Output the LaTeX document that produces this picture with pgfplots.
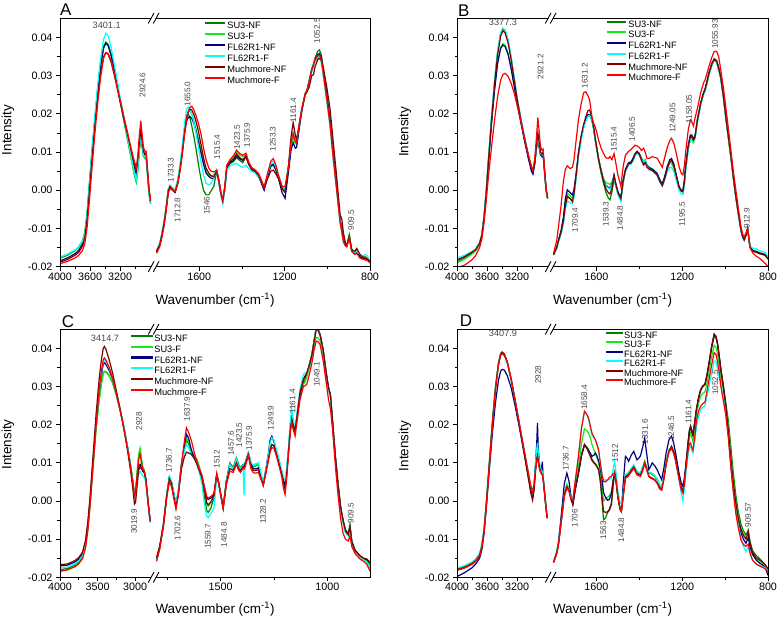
\documentclass[border=0pt]{standalone}
\usepackage{fontspec}
\setmainfont{Liberation Sans}
\usepackage{pgfplots}
\usepackage{pgfplotstable}
\pgfplotsset{compat=1.18}
\definecolor{cSNF}{RGB}{0,128,0}
\definecolor{cSF}{RGB}{20,235,20}
\definecolor{cFNF}{RGB}{0,0,128}
\definecolor{cFF}{RGB}{0,255,255}
\definecolor{cMNF}{RGB}{128,0,0}
\definecolor{cMF}{RGB}{255,0,0}

% ---------------- Panel A ----------------
\pgfplotstableread{
w a b c d e f
4000 -0.0178 -0.0176 -0.0185 -0.0175 -0.0188 -0.0192
3900 -0.0170 -0.0168 -0.0177 -0.0167 -0.0181 -0.0186
3800 -0.0158 -0.0157 -0.0166 -0.0156 -0.0170 -0.0177
3750 -0.0149 -0.0148 -0.0157 -0.0148 -0.0162 -0.0170
3700 -0.0132 -0.0132 -0.0140 -0.0133 -0.0146 -0.0157
3670 -0.0110 -0.0112 -0.0118 -0.0113 -0.0125 -0.0140
3640 -0.0060 -0.0064 -0.0068 -0.0062 -0.0076 -0.0098
3610 0.0015 0.0010 0.0006 0.0014 -0.0005 -0.0030
3580 0.0090 0.0085 0.0082 0.0092 0.0068 0.0045
3540 0.0180 0.0176 0.0173 0.0187 0.0160 0.0140
3500 0.0262 0.0258 0.0256 0.0274 0.0240 0.0225
3460 0.0330 0.0326 0.0325 0.0345 0.0306 0.0296
3420 0.0377 0.0373 0.0373 0.0396 0.0350 0.0346
3390 0.0388 0.0385 0.0385 0.0411 0.0360 0.0360
3360 0.0382 0.0379 0.0379 0.0404 0.0356 0.0358
3320 0.0356 0.0353 0.0353 0.0374 0.0335 0.0340
3280 0.0318 0.0315 0.0316 0.0332 0.0303 0.0308
3240 0.0276 0.0274 0.0276 0.0288 0.0268 0.0272
3200 0.0233 0.0232 0.0236 0.0243 0.0232 0.0236
3150 0.0182 0.0181 0.0187 0.0190 0.0188 0.0192
3100 0.0132 0.0131 0.0140 0.0138 0.0145 0.0150
3050 0.0080 0.0080 0.0092 0.0086 0.0100 0.0106
3010 0.0040 0.0040 0.0058 0.0046 0.0068 0.0075
2985 0.0022 0.0021 0.0042 0.0028 0.0052 0.0060
2965 0.0055 0.0052 0.0068 0.0060 0.0080 0.0092
2945 0.0105 0.0102 0.0112 0.0108 0.0125 0.0145
2925 0.0140 0.0138 0.0145 0.0142 0.0160 0.0182
2910 0.0118 0.0115 0.0122 0.0120 0.0132 0.0150
2890 0.0090 0.0088 0.0095 0.0092 0.0102 0.0112
2870 0.0085 0.0083 0.0090 0.0088 0.0095 0.0102
2855 0.0090 0.0088 0.0092 0.0092 0.0098 0.0102
2840 0.0050 0.0050 0.0055 0.0052 0.0060 0.0062
2815 -0.0010 -0.0010 -0.0006 -0.0008 0.0000 0.0002
2795 -0.0035 -0.0035 -0.0032 -0.0034 -0.0028 -0.0025
}\tAL
\pgfplotstableread{
w a b c d e f
1800 -0.0158 -0.0158 -0.0160 -0.0157 -0.0160 -0.0165
1785 -0.0140 -0.0140 -0.0142 -0.0138 -0.0142 -0.0148
1775 -0.0115 -0.0115 -0.0117 -0.0112 -0.0117 -0.0124
1765 -0.0085 -0.0085 -0.0087 -0.0082 -0.0087 -0.0095
1755 -0.0045 -0.0045 -0.0047 -0.0042 -0.0047 -0.0055
1745 0.0002 0.0000 0.0000 0.0004 -0.0002 -0.0008
1737 0.0012 0.0012 0.0008 0.0013 0.0010 0.0005
1725 0.0004 0.0006 0.0000 0.0005 0.0002 0.0000
1713 -0.0002 0.0002 -0.0006 0.0000 -0.0004 -0.0004
1700 0.0025 0.0028 0.0020 0.0030 0.0022 0.0018
1690 0.0060 0.0062 0.0055 0.0068 0.0055 0.0050
1680 0.0105 0.0105 0.0098 0.0115 0.0098 0.0090
1670 0.0155 0.0152 0.0145 0.0168 0.0147 0.0140
1660 0.0195 0.0190 0.0180 0.0212 0.0188 0.0183
1652 0.0200 0.0205 0.0190 0.0218 0.0205 0.0205
1645 0.0192 0.0208 0.0193 0.0214 0.0212 0.0216
1635 0.0168 0.0200 0.0188 0.0198 0.0210 0.0220
1625 0.0140 0.0182 0.0175 0.0178 0.0198 0.0210
1615 0.0108 0.0160 0.0155 0.0150 0.0180 0.0195
1604 0.0068 0.0135 0.0128 0.0114 0.0155 0.0175
1592 0.0030 0.0105 0.0098 0.0075 0.0120 0.0148
1580 0.0000 0.0075 0.0068 0.0040 0.0085 0.0110
1568 -0.0012 0.0050 0.0045 0.0018 0.0058 0.0080
1555 -0.0012 0.0040 0.0036 0.0014 0.0045 0.0058
1545 -0.0002 0.0038 0.0032 0.0018 0.0038 0.0050
1532 0.0010 0.0040 0.0030 0.0030 0.0035 0.0048
1518 0.0050 0.0052 0.0048 0.0050 0.0050 0.0052
1508 0.0022 0.0025 0.0020 0.0020 0.0024 0.0028
1498 -0.0010 -0.0008 -0.0012 -0.0015 -0.0010 -0.0006
1490 -0.0030 -0.0028 -0.0030 -0.0035 -0.0028 -0.0025
1480 0.0005 0.0008 0.0004 0.0000 0.0008 0.0012
1471 0.0058 0.0062 0.0058 0.0052 0.0062 0.0066
1456 0.0070 0.0078 0.0072 0.0064 0.0075 0.0080
1440 0.0075 0.0088 0.0078 0.0068 0.0082 0.0090
1425 0.0085 0.0100 0.0090 0.0070 0.0095 0.0105
1410 0.0078 0.0092 0.0082 0.0064 0.0085 0.0096
1396 0.0072 0.0088 0.0078 0.0060 0.0080 0.0092
1381 0.0088 0.0094 0.0090 0.0066 0.0090 0.0097
1368 0.0068 0.0072 0.0068 0.0056 0.0068 0.0074
1355 0.0055 0.0058 0.0055 0.0050 0.0056 0.0060
1339 0.0049 0.0050 0.0047 0.0046 0.0050 0.0054
1320 0.0036 0.0037 0.0034 0.0036 0.0038 0.0042
1296 0.0005 0.0007 0.0000 0.0007 0.0006 0.0009
1280 0.0036 0.0040 0.0036 0.0042 0.0030 0.0044
1265 0.0062 0.0066 0.0064 0.0070 0.0050 0.0076
1253 0.0066 0.0068 0.0068 0.0075 0.0053 0.0083
1240 0.0052 0.0054 0.0052 0.0060 0.0042 0.0064
1229 0.0034 0.0036 0.0032 0.0040 0.0030 0.0040
1212 0.0006 0.0010 -0.0006 0.0012 0.0004 0.0010
1198 -0.0004 0.0002 -0.0021 0.0004 -0.0006 0.0010
1182 0.0058 0.0062 0.0048 0.0064 0.0062 0.0062
1170 0.0118 0.0120 0.0105 0.0128 0.0140 0.0125
1160 0.0140 0.0142 0.0125 0.0153 0.0177 0.0149
1150 0.0124 0.0124 0.0110 0.0133 0.0145 0.0128
1144 0.0122 0.0120 0.0112 0.0128 0.0131 0.0124
1130 0.0175 0.0172 0.0168 0.0178 0.0178 0.0178
1120 0.0210 0.0208 0.0205 0.0212 0.0210 0.0212
1104 0.0250 0.0248 0.0252 0.0250 0.0250 0.0253
1095 0.0262 0.0258 0.0262 0.0258 0.0258 0.0262
1085 0.0285 0.0280 0.0285 0.0280 0.0270 0.0285
1073 0.0318 0.0312 0.0316 0.0312 0.0300 0.0314
1065 0.0330 0.0325 0.0328 0.0325 0.0302 0.0326
1058 0.0345 0.0338 0.0340 0.0336 0.0322 0.0340
1045 0.0364 0.0350 0.0355 0.0346 0.0342 0.0352
1037 0.0367 0.0352 0.0358 0.0349 0.0345 0.0354
1028 0.0355 0.0340 0.0345 0.0335 0.0340 0.0340
1019 0.0320 0.0305 0.0312 0.0300 0.0322 0.0306
1003 0.0255 0.0238 0.0248 0.0235 0.0272 0.0240
987 0.0186 0.0172 0.0180 0.0168 0.0212 0.0170
972 0.0098 0.0085 0.0092 0.0080 0.0125 0.0082
956 0.0012 0.0002 0.0008 0.0000 0.0035 0.0000
940 -0.0075 -0.0082 -0.0078 -0.0085 -0.0065 -0.0085
932 -0.0100 -0.0108 -0.0104 -0.0110 -0.0075 -0.0110
925 -0.0128 -0.0132 -0.0130 -0.0135 -0.0110 -0.0134
915 -0.0143 -0.0145 -0.0143 -0.0146 -0.0138 -0.0146
909 -0.0145 -0.0146 -0.0145 -0.0148 -0.0145 -0.0148
897 -0.0117 -0.0115 -0.0122 -0.0124 -0.0120 -0.0125
886 -0.0155 -0.0155 -0.0158 -0.0157 -0.0155 -0.0160
872 -0.0162 -0.0162 -0.0165 -0.0163 -0.0160 -0.0168
862 -0.0158 -0.0160 -0.0162 -0.0160 -0.0152 -0.0165
847 -0.0170 -0.0172 -0.0174 -0.0168 -0.0168 -0.0178
835 -0.0175 -0.0176 -0.0178 -0.0172 -0.0174 -0.0180
823 -0.0174 -0.0178 -0.0180 -0.0168 -0.0178 -0.0182
812 -0.0178 -0.0180 -0.0182 -0.0172 -0.0180 -0.0184
800 -0.0183 -0.0186 -0.0188 -0.0186 -0.0186 -0.0190
}\tAR

% ---------------- Panel B ----------------
\pgfplotstableread{
w a b c d e f
4000 -0.0188 -0.0190 -0.0183 -0.0178 -0.0183 -0.0203
3900 -0.0178 -0.0180 -0.0174 -0.0170 -0.0174 -0.0196
3800 -0.0165 -0.0167 -0.0162 -0.0160 -0.0162 -0.0182
3750 -0.0157 -0.0158 -0.0154 -0.0153 -0.0155 -0.0170
3700 -0.0140 -0.0141 -0.0138 -0.0137 -0.0139 -0.0150
3670 -0.0118 -0.0120 -0.0117 -0.0115 -0.0118 -0.0128
3640 -0.0070 -0.0073 -0.0070 -0.0066 -0.0071 -0.0085
3610 0.0000 -0.0004 -0.0003 0.0004 -0.0002 -0.0025
3580 0.0085 0.0078 0.0076 0.0090 0.0082 0.0040
3540 0.0190 0.0178 0.0176 0.0194 0.0186 0.0115
3500 0.0285 0.0266 0.0263 0.0290 0.0280 0.0185
3460 0.0362 0.0335 0.0332 0.0365 0.0355 0.0245
3420 0.0410 0.0374 0.0371 0.0412 0.0403 0.0288
3390 0.0424 0.0384 0.0380 0.0424 0.0418 0.0303
3360 0.0418 0.0380 0.0376 0.0420 0.0412 0.0306
3320 0.0390 0.0358 0.0355 0.0394 0.0385 0.0298
3280 0.0345 0.0320 0.0318 0.0350 0.0342 0.0280
3240 0.0292 0.0275 0.0273 0.0296 0.0290 0.0255
3200 0.0240 0.0228 0.0226 0.0243 0.0238 0.0222
3150 0.0185 0.0178 0.0176 0.0187 0.0184 0.0180
3100 0.0135 0.0130 0.0127 0.0137 0.0134 0.0135
3050 0.0090 0.0086 0.0082 0.0092 0.0089 0.0092
3010 0.0060 0.0056 0.0050 0.0062 0.0058 0.0062
2990 0.0050 0.0046 0.0042 0.0052 0.0048 0.0052
2965 0.0075 0.0072 0.0070 0.0078 0.0075 0.0085
2945 0.0110 0.0108 0.0108 0.0112 0.0114 0.0135
2925 0.0140 0.0138 0.0136 0.0142 0.0150 0.0190
2910 0.0120 0.0118 0.0116 0.0120 0.0128 0.0160
2890 0.0095 0.0094 0.0092 0.0096 0.0100 0.0115
2870 0.0090 0.0090 0.0088 0.0092 0.0094 0.0105
2855 0.0098 0.0096 0.0094 0.0098 0.0100 0.0108
2840 0.0060 0.0058 0.0058 0.0060 0.0062 0.0065
2815 0.0000 0.0000 0.0000 0.0000 0.0002 0.0004
2795 -0.0022 -0.0022 -0.0022 -0.0022 -0.0020 -0.0018
}\tBL
\pgfplotstableread{
w a b c d e f
1800 -0.0169 -0.0169 -0.0168 -0.0170 -0.0169 -0.0165
1785 -0.0150 -0.0150 -0.0148 -0.0152 -0.0150 -0.0130
1777 -0.0132 -0.0132 -0.0130 -0.0135 -0.0132 -0.0095
1765 -0.0110 -0.0108 -0.0105 -0.0115 -0.0110 -0.0040
1754 -0.0080 -0.0075 -0.0070 -0.0088 -0.0080 0.0025
1745 -0.0040 -0.0030 -0.0022 -0.0050 -0.0040 0.0055
1736 -0.0017 -0.0008 0.0001 -0.0028 -0.0015 0.0064
1723 -0.0022 -0.0014 -0.0006 -0.0033 -0.0022 0.0057
1712 -0.0028 -0.0022 -0.0012 -0.0036 -0.0030 0.0060
1705 -0.0010 -0.0005 0.0002 -0.0018 -0.0010 0.0079
1695 0.0035 0.0038 0.0042 0.0030 0.0038 0.0130
1684 0.0092 0.0094 0.0098 0.0088 0.0096 0.0184
1672 0.0135 0.0136 0.0138 0.0130 0.0140 0.0225
1660 0.0166 0.0166 0.0168 0.0162 0.0172 0.0255
1650 0.0183 0.0184 0.0186 0.0180 0.0192 0.0258
1640 0.0195 0.0196 0.0198 0.0193 0.0208 0.0248
1632 0.0196 0.0198 0.0198 0.0196 0.0210 0.0236
1621 0.0182 0.0185 0.0185 0.0184 0.0190 0.0192
1613 0.0160 0.0164 0.0163 0.0162 0.0165 0.0175
1606 0.0132 0.0137 0.0135 0.0133 0.0137 0.0166
1598 0.0105 0.0110 0.0108 0.0105 0.0108 0.0150
1590 0.0078 0.0084 0.0082 0.0078 0.0080 0.0131
1578 0.0045 0.0054 0.0050 0.0046 0.0048 0.0110
1567 0.0018 0.0030 0.0026 0.0022 0.0022 0.0096
1556 -0.0005 0.0020 0.0012 0.0010 0.0004 0.0085
1545 -0.0020 0.0018 0.0008 0.0006 -0.0006 0.0083
1537 -0.0025 0.0015 0.0005 0.0003 -0.0010 0.0088
1528 -0.0005 0.0022 0.0015 0.0012 0.0005 0.0080
1518 0.0030 0.0036 0.0040 0.0034 0.0038 0.0096
1510 0.0012 0.0016 0.0018 0.0012 0.0016 0.0072
1500 -0.0008 -0.0006 -0.0004 -0.0012 -0.0006 0.0040
1486 -0.0022 -0.0020 -0.0020 -0.0030 -0.0022 0.0010
1476 0.0020 0.0024 0.0024 0.0016 0.0022 0.0060
1465 0.0050 0.0054 0.0055 0.0048 0.0052 0.0092
1450 0.0068 0.0072 0.0072 0.0066 0.0070 0.0102
1440 0.0070 0.0073 0.0074 0.0068 0.0070 0.0106
1431 0.0078 0.0080 0.0082 0.0076 0.0078 0.0112
1420 0.0092 0.0094 0.0096 0.0090 0.0094 0.0118
1410 0.0100 0.0101 0.0102 0.0098 0.0100 0.0116
1400 0.0094 0.0096 0.0096 0.0092 0.0094 0.0112
1390 0.0080 0.0084 0.0082 0.0080 0.0078 0.0104
1380 0.0070 0.0076 0.0072 0.0074 0.0066 0.0110
1372 0.0076 0.0080 0.0078 0.0078 0.0072 0.0098
1364 0.0062 0.0066 0.0064 0.0062 0.0060 0.0083
1352 0.0056 0.0060 0.0058 0.0054 0.0054 0.0084
1340 0.0053 0.0057 0.0055 0.0050 0.0052 0.0088
1328 0.0046 0.0050 0.0050 0.0044 0.0046 0.0086
1317 0.0040 0.0043 0.0044 0.0038 0.0040 0.0084
1305 0.0025 0.0028 0.0028 0.0022 0.0024 0.0072
1293 0.0013 0.0016 0.0016 0.0010 0.0012 0.0060
1282 0.0030 0.0034 0.0036 0.0026 0.0030 0.0085
1270 0.0056 0.0058 0.0062 0.0048 0.0056 0.0112
1258 0.0074 0.0072 0.0080 0.0060 0.0076 0.0130
1250 0.0078 0.0070 0.0083 0.0060 0.0078 0.0136
1240 0.0066 0.0060 0.0070 0.0050 0.0066 0.0125
1231 0.0045 0.0042 0.0048 0.0032 0.0045 0.0105
1215 0.0008 0.0008 0.0010 0.0000 0.0008 0.0062
1205 -0.0002 -0.0002 0.0000 -0.0010 -0.0002 0.0045
1197 -0.0004 -0.0004 0.0000 -0.0012 -0.0004 0.0040
1190 0.0020 0.0020 0.0025 0.0012 0.0020 0.0065
1184 0.0060 0.0058 0.0065 0.0052 0.0060 0.0100
1172 0.0112 0.0108 0.0118 0.0105 0.0114 0.0158
1162 0.0138 0.0132 0.0145 0.0133 0.0142 0.0184
1156 0.0140 0.0132 0.0145 0.0134 0.0142 0.0180
1148 0.0130 0.0124 0.0134 0.0126 0.0131 0.0168
1140 0.0140 0.0136 0.0144 0.0138 0.0140 0.0190
1129 0.0184 0.0180 0.0186 0.0180 0.0184 0.0215
1114 0.0227 0.0224 0.0228 0.0224 0.0227 0.0255
1100 0.0255 0.0252 0.0257 0.0252 0.0255 0.0282
1094 0.0262 0.0258 0.0264 0.0258 0.0262 0.0288
1085 0.0282 0.0278 0.0285 0.0278 0.0282 0.0305
1075 0.0306 0.0302 0.0308 0.0302 0.0306 0.0325
1062 0.0330 0.0326 0.0332 0.0328 0.0330 0.0348
1051 0.0342 0.0340 0.0344 0.0341 0.0342 0.0363
1040 0.0338 0.0335 0.0340 0.0336 0.0338 0.0364
1030 0.0318 0.0316 0.0322 0.0316 0.0318 0.0350
1020 0.0293 0.0292 0.0296 0.0290 0.0293 0.0314
1008 0.0245 0.0244 0.0248 0.0242 0.0245 0.0268
997 0.0192 0.0190 0.0195 0.0188 0.0192 0.0219
985 0.0140 0.0138 0.0142 0.0136 0.0140 0.0162
973 0.0088 0.0086 0.0090 0.0084 0.0088 0.0105
962 0.0035 0.0034 0.0037 0.0032 0.0035 0.0052
950 -0.0017 -0.0018 -0.0016 -0.0020 -0.0017 0.0001
938 -0.0062 -0.0063 -0.0062 -0.0065 -0.0062 -0.0048
926 -0.0104 -0.0104 -0.0104 -0.0106 -0.0104 -0.0095
918 -0.0122 -0.0122 -0.0122 -0.0124 -0.0122 -0.0115
911 -0.0130 -0.0130 -0.0130 -0.0131 -0.0130 -0.0122
903 -0.0118 -0.0118 -0.0118 -0.0118 -0.0118 -0.0112
895 -0.0100 -0.0100 -0.0100 -0.0098 -0.0100 -0.0100
884 -0.0148 -0.0148 -0.0148 -0.0145 -0.0150 -0.0150
870 -0.0158 -0.0160 -0.0158 -0.0152 -0.0160 -0.0165
856 -0.0160 -0.0162 -0.0160 -0.0153 -0.0162 -0.0172
840 -0.0164 -0.0166 -0.0164 -0.0158 -0.0166 -0.0178
825 -0.0166 -0.0168 -0.0166 -0.0160 -0.0168 -0.0185
812 -0.0168 -0.0172 -0.0170 -0.0163 -0.0170 -0.0192
800 -0.0178 -0.0180 -0.0178 -0.0175 -0.0180 -0.0200
}\tBR

% ---------------- Panel C ----------------
\pgfplotstableread{
w a b c d e f
4000 -0.0180 -0.0184 -0.0170 -0.0176 -0.0167 -0.0184
3900 -0.0177 -0.0181 -0.0168 -0.0173 -0.0165 -0.0180
3800 -0.0168 -0.0172 -0.0160 -0.0165 -0.0156 -0.0172
3750 -0.0160 -0.0164 -0.0152 -0.0157 -0.0148 -0.0164
3700 -0.0145 -0.0150 -0.0138 -0.0143 -0.0134 -0.0150
3660 -0.0115 -0.0120 -0.0108 -0.0112 -0.0103 -0.0122
3630 -0.0070 -0.0075 -0.0062 -0.0066 -0.0055 -0.0078
3600 -0.0005 -0.0010 0.0002 0.0000 0.0012 -0.0012
3560 0.0095 0.0092 0.0105 0.0104 0.0120 0.0092
3520 0.0190 0.0188 0.0205 0.0206 0.0228 0.0198
3480 0.0265 0.0263 0.0285 0.0290 0.0318 0.0290
3450 0.0308 0.0306 0.0330 0.0337 0.0370 0.0340
3425 0.0335 0.0335 0.0358 0.0366 0.0400 0.0370
3410 0.0340 0.0340 0.0362 0.0370 0.0405 0.0375
3390 0.0339 0.0338 0.0358 0.0365 0.0398 0.0370
3350 0.0330 0.0329 0.0344 0.0350 0.0373 0.0352
3300 0.0310 0.0309 0.0320 0.0324 0.0335 0.0322
3250 0.0277 0.0276 0.0282 0.0285 0.0288 0.0282
3200 0.0238 0.0237 0.0240 0.0242 0.0240 0.0238
3150 0.0192 0.0191 0.0192 0.0194 0.0188 0.0190
3100 0.0140 0.0140 0.0138 0.0140 0.0130 0.0136
3060 0.0092 0.0093 0.0088 0.0088 0.0077 0.0086
3030 0.0050 0.0052 0.0045 0.0042 0.0030 0.0044
3010 0.0018 0.0020 0.0010 0.0005 -0.0008 0.0012
2995 0.0025 0.0028 0.0016 0.0008 -0.0004 0.0020
2975 0.0070 0.0075 0.0058 0.0048 0.0040 0.0065
2955 0.0115 0.0122 0.0090 0.0070 0.0080 0.0108
2935 0.0130 0.0139 0.0096 0.0078 0.0090 0.0122
2920 0.0110 0.0118 0.0088 0.0072 0.0085 0.0105
2900 0.0085 0.0090 0.0078 0.0066 0.0082 0.0085
2880 0.0080 0.0082 0.0074 0.0062 0.0078 0.0078
2860 0.0060 0.0060 0.0056 0.0050 0.0058 0.0058
2840 0.0020 0.0020 0.0018 0.0015 0.0020 0.0020
2815 -0.0030 -0.0030 -0.0030 -0.0032 -0.0028 -0.0028
2800 -0.0055 -0.0055 -0.0055 -0.0058 -0.0052 -0.0050
}\tCL
\pgfplotstableread{
w a b c d e f
1800 -0.0150 -0.0156 -0.0152 -0.0154 -0.0150 -0.0158
1785 -0.0118 -0.0124 -0.0120 -0.0122 -0.0118 -0.0126
1768 -0.0062 -0.0066 -0.0062 -0.0064 -0.0062 -0.0068
1752 0.0017 0.0014 0.0017 0.0016 0.0015 0.0010
1740 0.0063 0.0060 0.0062 0.0065 0.0058 0.0050
1730 0.0050 0.0048 0.0050 0.0052 0.0046 0.0038
1720 0.0020 0.0018 0.0020 0.0022 0.0014 0.0008
1709 -0.0010 -0.0012 -0.0010 -0.0008 -0.0016 -0.0022
1698 0.0025 0.0022 0.0025 0.0026 0.0018 0.0015
1683 0.0096 0.0095 0.0098 0.0094 0.0085 0.0098
1670 0.0135 0.0138 0.0145 0.0130 0.0115 0.0155
1660 0.0160 0.0165 0.0175 0.0148 0.0128 0.0192
1650 0.0150 0.0155 0.0165 0.0140 0.0126 0.0180
1636 0.0125 0.0128 0.0132 0.0120 0.0122 0.0157
1624 0.0115 0.0118 0.0115 0.0112 0.0112 0.0128
1612 0.0110 0.0110 0.0100 0.0098 0.0098 0.0105
1600 0.0090 0.0090 0.0082 0.0076 0.0080 0.0085
1588 0.0062 0.0066 0.0066 0.0045 0.0062 0.0069
1575 0.0010 0.0025 0.0035 -0.0010 0.0025 0.0035
1565 -0.0025 -0.0008 0.0008 -0.0040 -0.0005 0.0012
1558 -0.0030 -0.0014 0.0004 -0.0044 -0.0010 0.0008
1545 -0.0018 -0.0005 0.0008 -0.0032 -0.0002 0.0012
1531 0.0010 0.0016 0.0018 -0.0018 0.0015 0.0020
1518 0.0068 0.0070 0.0068 0.0062 0.0068 0.0073
1510 0.0050 0.0052 0.0050 0.0045 0.0048 0.0052
1503 0.0030 0.0030 0.0028 0.0025 0.0028 0.0028
1488 -0.0016 -0.0016 -0.0018 -0.0018 -0.0018 -0.0020
1473 0.0052 0.0052 0.0050 0.0050 0.0048 0.0042
1457 0.0100 0.0098 0.0095 0.0095 0.0085 0.0078
1441 0.0088 0.0087 0.0085 0.0085 0.0080 0.0075
1426 0.0113 0.0112 0.0110 0.0110 0.0100 0.0096
1415 0.0095 0.0094 0.0092 0.0092 0.0085 0.0080
1407 0.0088 0.0087 0.0086 0.0086 0.0080 0.0075
1395 0.0096 0.0095 0.0094 0.0094 0.0090 0.0086
1390 0.0094 0.0093 0.0092 0.0015 0.0088 0.0084
1385 0.0100 0.0099 0.0098 0.0095 0.0094 0.0090
1370 0.0126 0.0126 0.0125 0.0126 0.0122 0.0118
1358 0.0100 0.0100 0.0098 0.0102 0.0092 0.0085
1347 0.0090 0.0090 0.0085 0.0094 0.0080 0.0074
1335 0.0092 0.0094 0.0084 0.0098 0.0080 0.0073
1323 0.0096 0.0098 0.0087 0.0100 0.0082 0.0075
1312 0.0072 0.0074 0.0066 0.0076 0.0062 0.0058
1300 0.0043 0.0045 0.0043 0.0046 0.0042 0.0040
1288 0.0078 0.0080 0.0082 0.0082 0.0076 0.0072
1276 0.0113 0.0114 0.0125 0.0122 0.0110 0.0105
1268 0.0138 0.0138 0.0160 0.0152 0.0135 0.0128
1260 0.0148 0.0148 0.0170 0.0166 0.0148 0.0140
1250 0.0145 0.0145 0.0155 0.0160 0.0144 0.0138
1237 0.0122 0.0122 0.0128 0.0132 0.0120 0.0115
1225 0.0098 0.0098 0.0102 0.0106 0.0095 0.0090
1213 0.0074 0.0074 0.0076 0.0080 0.0070 0.0062
1205 0.0050 0.0052 0.0052 0.0062 0.0046 0.0032
1198 0.0035 0.0038 0.0040 0.0055 0.0032 0.0017
1190 0.0075 0.0078 0.0080 0.0090 0.0072 0.0060
1182 0.0131 0.0130 0.0132 0.0140 0.0128 0.0120
1174 0.0195 0.0185 0.0185 0.0205 0.0185 0.0175
1167 0.0227 0.0210 0.0214 0.0244 0.0210 0.0205
1160 0.0205 0.0195 0.0200 0.0215 0.0198 0.0188
1151 0.0185 0.0180 0.0183 0.0190 0.0185 0.0170
1140 0.0230 0.0225 0.0230 0.0240 0.0232 0.0215
1128 0.0279 0.0275 0.0280 0.0292 0.0285 0.0265
1112 0.0310 0.0305 0.0320 0.0332 0.0318 0.0300
1104 0.0318 0.0312 0.0328 0.0336 0.0325 0.0302
1096 0.0332 0.0325 0.0335 0.0332 0.0335 0.0306
1085 0.0355 0.0348 0.0355 0.0355 0.0355 0.0330
1072 0.0384 0.0374 0.0384 0.0384 0.0384 0.0362
1062 0.0420 0.0405 0.0420 0.0420 0.0418 0.0395
1052 0.0452 0.0428 0.0454 0.0454 0.0450 0.0419
1044 0.0450 0.0428 0.0452 0.0450 0.0448 0.0418
1034 0.0437 0.0420 0.0437 0.0435 0.0435 0.0410
1020 0.0398 0.0385 0.0398 0.0395 0.0398 0.0370
1005 0.0335 0.0325 0.0335 0.0330 0.0335 0.0310
995 0.0298 0.0295 0.0300 0.0292 0.0298 0.0268
985 0.0276 0.0272 0.0276 0.0270 0.0276 0.0240
975 0.0205 0.0200 0.0205 0.0198 0.0205 0.0185
962 0.0115 0.0110 0.0115 0.0108 0.0115 0.0090
950 0.0045 0.0040 0.0045 0.0038 0.0045 0.0017
938 -0.0015 -0.0020 -0.0015 -0.0022 -0.0015 -0.0045
926 -0.0050 -0.0056 -0.0052 -0.0058 -0.0052 -0.0085
915 -0.0075 -0.0082 -0.0078 -0.0084 -0.0078 -0.0100
902 -0.0085 -0.0090 -0.0088 -0.0092 -0.0088 -0.0105
894 -0.0062 -0.0068 -0.0068 -0.0072 -0.0068 -0.0090
885 -0.0105 -0.0110 -0.0108 -0.0110 -0.0108 -0.0120
870 -0.0128 -0.0132 -0.0130 -0.0132 -0.0130 -0.0138
847 -0.0143 -0.0147 -0.0145 -0.0147 -0.0144 -0.0152
830 -0.0150 -0.0153 -0.0152 -0.0154 -0.0150 -0.0158
815 -0.0155 -0.0160 -0.0153 -0.0160 -0.0152 -0.0166
800 -0.0168 -0.0176 -0.0160 -0.0172 -0.0162 -0.0184
}\tCR

% ---------------- Panel D ----------------
\pgfplotstableread{
w a b c d e f
4000 -0.0178 -0.0176 -0.0198 -0.0176 -0.0180 -0.0182
3900 -0.0172 -0.0170 -0.0188 -0.0170 -0.0174 -0.0176
3800 -0.0162 -0.0160 -0.0175 -0.0160 -0.0164 -0.0166
3750 -0.0154 -0.0152 -0.0165 -0.0152 -0.0156 -0.0158
3700 -0.0140 -0.0138 -0.0150 -0.0138 -0.0142 -0.0145
3670 -0.0118 -0.0116 -0.0128 -0.0116 -0.0120 -0.0124
3640 -0.0075 -0.0073 -0.0085 -0.0074 -0.0077 -0.0082
3610 -0.0005 -0.0003 -0.0018 -0.0005 -0.0007 -0.0012
3570 0.0100 0.0100 0.0082 0.0098 0.0098 0.0092
3530 0.0205 0.0205 0.0176 0.0202 0.0203 0.0198
3490 0.0295 0.0295 0.0255 0.0290 0.0293 0.0288
3450 0.0360 0.0360 0.0315 0.0354 0.0358 0.0355
3420 0.0386 0.0386 0.0340 0.0381 0.0385 0.0382
3400 0.0390 0.0390 0.0345 0.0385 0.0390 0.0386
3370 0.0384 0.0384 0.0343 0.0380 0.0385 0.0382
3330 0.0362 0.0362 0.0328 0.0360 0.0364 0.0362
3280 0.0318 0.0318 0.0297 0.0318 0.0320 0.0320
3230 0.0265 0.0265 0.0252 0.0266 0.0266 0.0268
3180 0.0210 0.0210 0.0202 0.0212 0.0210 0.0214
3140 0.0165 0.0166 0.0160 0.0168 0.0165 0.0170
3100 0.0120 0.0122 0.0117 0.0125 0.0118 0.0127
3060 0.0075 0.0078 0.0074 0.0082 0.0070 0.0084
3020 0.0030 0.0034 0.0032 0.0040 0.0022 0.0042
2995 0.0010 0.0014 0.0012 0.0022 0.0002 0.0024
2975 0.0035 0.0038 0.0040 0.0048 0.0028 0.0045
2955 0.0085 0.0088 0.0100 0.0100 0.0080 0.0085
2940 0.0112 0.0115 0.0150 0.0135 0.0110 0.0105
2930 0.0122 0.0124 0.0205 0.0152 0.0120 0.0113
2920 0.0110 0.0112 0.0140 0.0128 0.0108 0.0102
2900 0.0085 0.0087 0.0090 0.0094 0.0084 0.0080
2880 0.0075 0.0076 0.0082 0.0082 0.0074 0.0072
2865 0.0070 0.0070 0.0103 0.0076 0.0068 0.0068
2855 0.0062 0.0062 0.0060 0.0066 0.0060 0.0060
2835 0.0020 0.0020 0.0020 0.0022 0.0020 0.0020
2815 -0.0020 -0.0020 -0.0020 -0.0020 -0.0020 -0.0020
2800 -0.0045 -0.0045 -0.0045 -0.0045 -0.0045 -0.0045
}\tDL
\pgfplotstableread{
w a b c d e f
1800 -0.0159 -0.0159 -0.0160 -0.0158 -0.0160 -0.0162
1785 -0.0135 -0.0135 -0.0134 -0.0134 -0.0136 -0.0138
1777 -0.0111 -0.0111 -0.0108 -0.0110 -0.0112 -0.0114
1762 -0.0040 -0.0040 -0.0025 -0.0040 -0.0042 -0.0046
1750 0.0020 0.0020 0.0045 0.0018 0.0016 0.0010
1738 0.0042 0.0044 0.0073 0.0040 0.0038 0.0034
1728 0.0030 0.0032 0.0052 0.0030 0.0028 0.0025
1718 0.0005 0.0010 0.0008 0.0008 0.0002 0.0005
1710 -0.0005 0.0004 -0.0010 0.0002 -0.0008 0.0002
1700 0.0030 0.0040 0.0025 0.0050 0.0030 0.0048
1684 0.0073 0.0090 0.0073 0.0117 0.0073 0.0117
1670 0.0120 0.0150 0.0120 0.0190 0.0118 0.0190
1656 0.0148 0.0189 0.0148 0.0235 0.0146 0.0235
1646 0.0142 0.0185 0.0140 0.0228 0.0140 0.0228
1637 0.0135 0.0178 0.0132 0.0214 0.0128 0.0218
1628 0.0120 0.0165 0.0125 0.0190 0.0116 0.0195
1621 0.0110 0.0148 0.0117 0.0172 0.0106 0.0178
1612 0.0102 0.0135 0.0120 0.0165 0.0100 0.0168
1605 0.0098 0.0125 0.0126 0.0160 0.0096 0.0160
1598 0.0092 0.0115 0.0118 0.0150 0.0090 0.0148
1590 0.0082 0.0100 0.0105 0.0130 0.0082 0.0135
1582 0.0050 0.0070 0.0085 0.0100 0.0055 0.0100
1574 0.0000 0.0038 0.0058 0.0068 0.0010 0.0068
1567 -0.0049 0.0000 0.0022 0.0055 -0.0027 0.0051
1558 -0.0045 0.0005 0.0010 0.0055 -0.0030 0.0050
1548 -0.0030 0.0010 0.0002 0.0055 -0.0028 0.0055
1540 -0.0025 0.0014 0.0004 0.0056 -0.0022 0.0062
1530 -0.0010 0.0025 0.0020 0.0060 -0.0005 0.0065
1522 0.0040 0.0055 0.0055 0.0085 0.0050 0.0072
1515 0.0073 0.0073 0.0070 0.0104 0.0073 0.0073
1508 0.0050 0.0050 0.0050 0.0070 0.0050 0.0050
1500 0.0010 0.0010 0.0012 0.0025 0.0010 0.0012
1490 -0.0020 -0.0020 -0.0022 -0.0002 -0.0020 -0.0020
1484 -0.0027 -0.0027 -0.0027 -0.0008 -0.0027 -0.0027
1476 0.0010 0.0012 0.0040 0.0020 0.0010 0.0008
1465 0.0065 0.0068 0.0117 0.0070 0.0064 0.0060
1457 0.0068 0.0070 0.0112 0.0072 0.0066 0.0062
1450 0.0072 0.0074 0.0104 0.0076 0.0070 0.0066
1438 0.0082 0.0084 0.0120 0.0086 0.0080 0.0076
1426 0.0091 0.0093 0.0130 0.0095 0.0089 0.0085
1418 0.0082 0.0084 0.0118 0.0086 0.0080 0.0076
1411 0.0073 0.0075 0.0108 0.0077 0.0071 0.0068
1403 0.0072 0.0074 0.0112 0.0076 0.0070 0.0066
1395 0.0070 0.0072 0.0118 0.0075 0.0068 0.0064
1385 0.0085 0.0088 0.0140 0.0090 0.0082 0.0078
1375 0.0104 0.0104 0.0165 0.0096 0.0100 0.0098
1366 0.0088 0.0088 0.0125 0.0085 0.0084 0.0082
1356 0.0073 0.0073 0.0082 0.0075 0.0066 0.0064
1348 0.0072 0.0075 0.0090 0.0074 0.0062 0.0060
1340 0.0070 0.0072 0.0100 0.0072 0.0060 0.0058
1328 0.0064 0.0066 0.0092 0.0066 0.0056 0.0054
1317 0.0056 0.0058 0.0082 0.0058 0.0048 0.0046
1306 0.0042 0.0044 0.0068 0.0044 0.0036 0.0032
1296 0.0034 0.0036 0.0056 0.0036 0.0030 0.0028
1286 0.0060 0.0062 0.0085 0.0060 0.0058 0.0055
1275 0.0100 0.0102 0.0126 0.0100 0.0098 0.0096
1262 0.0132 0.0134 0.0160 0.0130 0.0130 0.0128
1250 0.0143 0.0140 0.0170 0.0138 0.0143 0.0138
1240 0.0130 0.0128 0.0152 0.0124 0.0130 0.0125
1231 0.0110 0.0108 0.0126 0.0104 0.0110 0.0105
1215 0.0062 0.0060 0.0073 0.0055 0.0062 0.0058
1205 0.0035 0.0033 0.0048 0.0020 0.0035 0.0030
1197 0.0025 0.0022 0.0038 0.0000 0.0025 0.0020
1190 0.0050 0.0046 0.0060 0.0030 0.0050 0.0045
1184 0.0085 0.0080 0.0091 0.0065 0.0085 0.0080
1172 0.0150 0.0140 0.0159 0.0125 0.0155 0.0135
1166 0.0185 0.0168 0.0185 0.0140 0.0188 0.0150
1161 0.0196 0.0178 0.0192 0.0143 0.0196 0.0152
1155 0.0182 0.0165 0.0180 0.0132 0.0184 0.0140
1150 0.0172 0.0155 0.0172 0.0126 0.0176 0.0133
1142 0.0200 0.0185 0.0205 0.0155 0.0205 0.0165
1134 0.0236 0.0226 0.0240 0.0192 0.0240 0.0210
1124 0.0268 0.0255 0.0270 0.0220 0.0270 0.0235
1114 0.0290 0.0275 0.0292 0.0240 0.0292 0.0249
1104 0.0300 0.0282 0.0302 0.0245 0.0300 0.0255
1094 0.0306 0.0286 0.0305 0.0250 0.0306 0.0259
1084 0.0330 0.0310 0.0332 0.0275 0.0332 0.0290
1075 0.0358 0.0340 0.0362 0.0301 0.0362 0.0319
1063 0.0400 0.0378 0.0405 0.0335 0.0405 0.0356
1051 0.0432 0.0408 0.0437 0.0367 0.0437 0.0389
1043 0.0428 0.0404 0.0432 0.0365 0.0432 0.0385
1036 0.0412 0.0388 0.0415 0.0349 0.0415 0.0367
1028 0.0380 0.0360 0.0382 0.0325 0.0382 0.0340
1020 0.0345 0.0325 0.0345 0.0304 0.0345 0.0301
1008 0.0300 0.0290 0.0300 0.0270 0.0300 0.0262
997 0.0258 0.0250 0.0249 0.0238 0.0250 0.0225
985 0.0210 0.0195 0.0175 0.0180 0.0185 0.0165
973 0.0140 0.0120 0.0090 0.0105 0.0110 0.0090
962 0.0075 0.0055 0.0030 0.0040 0.0048 0.0025
950 0.0015 0.0000 -0.0023 -0.0015 -0.0005 -0.0033
938 -0.0030 -0.0045 -0.0058 -0.0062 -0.0048 -0.0072
926 -0.0061 -0.0072 -0.0084 -0.0099 -0.0075 -0.0102
915 -0.0078 -0.0086 -0.0100 -0.0118 -0.0090 -0.0114
903 -0.0089 -0.0097 -0.0111 -0.0133 -0.0100 -0.0119
892 -0.0076 -0.0086 -0.0095 -0.0120 -0.0082 -0.0113
884 -0.0105 -0.0112 -0.0120 -0.0140 -0.0110 -0.0135
872 -0.0130 -0.0135 -0.0140 -0.0155 -0.0135 -0.0155
856 -0.0142 -0.0150 -0.0154 -0.0165 -0.0148 -0.0165
841 -0.0150 -0.0156 -0.0162 -0.0168 -0.0154 -0.0170
825 -0.0160 -0.0165 -0.0168 -0.0172 -0.0160 -0.0174
812 -0.0168 -0.0170 -0.0176 -0.0176 -0.0168 -0.0178
800 -0.0180 -0.0178 -0.0195 -0.0184 -0.0178 -0.0186
}\tDR

\pgfplotsset{
  seg/.style={
    scale only axis,
    ymin=-0.02, ymax=0.045,
    scaled x ticks=false, scaled y ticks=false,
    axis line style={draw=none},
    tick align=outside, tick pos=left,
    major tick length=4bp, minor tick length=2.5bp,
    tick style={black, line width=0.7bp},
    tick label style={font=\fontsize{10.8}{12}\selectfont},
    xticklabel style={yshift=1.5bp},
    clip mode=individual,
    every axis plot post/.append style={line width=1.2bp, mark=none},
  },
  lseg/.style={seg, width=94bp, xmin=-4000, xmax=-2750,
    ytick={-0.02,-0.01,0,0.01,0.02,0.03,0.04},
    yticklabels={-0.02,-0.01,0.00,0.01,0.02,0.03,0.04},
    minor ytick={-0.015,-0.005,0.005,0.015,0.025,0.035}},
  rseg/.style={seg, xmin=-1812, xmax=-800, ytick=\empty,
    legend cell align=left,
    legend style={draw=none, fill=none, inner sep=0pt, outer sep=0pt,
      anchor=north west, font=\fontsize{9.3}{10}\selectfont,
      nodes={inner sep=0pt, text height=6.8bp, text depth=1.9bp}},
    legend entries={SU3-NF,SU3-F,FL62R1-NF,FL62R1-F,Muchmore-NF,Muchmore-F}},
  lg/.style 2 args={legend image code/.code={%
      \draw[##1, line width=2.1bp] (0bp,3.2bp) -- (#1bp,3.2bp);
      \path (#1bp+#2bp,3.2bp);}},
}

\newcommand{\six}[1]{%
  \addplot[cSNF] table[x expr=-\thisrow{w}, y=a]{#1};
  \addplot[cSF] table[x expr=-\thisrow{w}, y=b]{#1};
  \addplot[cFNF] table[x expr=-\thisrow{w}, y=c]{#1};
  \addplot[cFF] table[x expr=-\thisrow{w}, y=d]{#1};
  \addplot[cMNF] table[x expr=-\thisrow{w}, y=e]{#1};
  \addplot[cMF] table[x expr=-\thisrow{w}, y=f]{#1};
}
\newcommand{\brkmark}[2]{%
  \fill[white] ({#1bp-2.8bp},{-#2bp-1.6bp}) rectangle ({#1bp+2.1bp},{-#2bp+1.6bp});
  \draw[line width=0.9bp] ({#1bp-5.7bp},{-#2bp-5.2bp}) -- ({#1bp+0.0bp},{-#2bp+5.4bp});
  \draw[line width=0.9bp] ({#1bp-0.7bp},{-#2bp-5.2bp}) -- ({#1bp+5.0bp},{-#2bp+5.4bp});
}
\tikzset{annot/.style={font=\fontsize{8.2}{9}\selectfont, text=black!72, inner sep=0pt},
  ylab/.style={font=\fontsize{13.5}{15}\selectfont, inner sep=0pt},
  plab/.style={font=\fontsize{17}{18}\selectfont, inner sep=0pt, anchor=base west}}
\newcommand{\ann}[3]{\node[annot, rotate=90] at (#1bp,-#2bp) {#3};}
\newcommand{\annh}[3]{\node[annot, font=\fontsize{9.2}{10}\selectfont] at (#1bp,-#2bp) {#3};}

\begin{document}
\begin{tikzpicture}
\useasboundingbox (0,0) rectangle (778bp,-620bp);

% ===== A =====
\begin{axis}[lseg, height=248.4bp, at={(60bp,-266.7bp)}, anchor=south west,
  xtick={-4000,-3600,-3200}, xticklabels={4000,3600,3200}, minor xtick={-3800,-3400,-3000}]
\six{\tAL}
\end{axis}
\begin{axis}[rseg, width=216bp, height=248.4bp, at={(154bp,-266.7bp)}, anchor=south west,
  xtick={-1600,-1200,-800}, xticklabels={1600,1200,800}, minor xtick={-1400,-1000},
  lg={20}{1.7}, legend style={at={(0.2315,0.9847)}, row sep=2.2bp}]
\six{\tAR}
\end{axis}
\draw[line width=1bp] (60bp,-18.3bp) rectangle (370bp,-266.7bp);
\brkmark{154}{18.3}\brkmark{154}{266.7}
\node[plab] at (60bp,-15.7bp) {A};
\node[ylab, rotate=90] at (8bp,-130bp) {Intensity};
\node[ylab] at (215bp,-300bp) {Wavenumber (cm\textsuperscript{-1})};
\annh{106.7}{25.3}{3401.1}
\ann{142.5}{85}{2924.6}
\ann{170.8}{170}{1733.3}
\ann{177.5}{210}{1712.8}
\ann{187.5}{94}{1655.0}
\ann{206.7}{205.8}{1546}
\ann{217}{147}{1515.4}
\ann{237}{137.5}{1423.5}
\ann{247}{135}{1375.9}
\ann{272.8}{139}{1253.3}
\ann{293.3}{110}{1161.4}
\ann{317}{30.8}{1052.5}
\ann{351}{220}{909.5}

% ===== B =====
\begin{axis}[lseg, height=248.4bp, at={(457bp,-266.7bp)}, anchor=south west,
  xtick={-4000,-3600,-3200}, xticklabels={4000,3600,3200}, minor xtick={-3800,-3400,-3000}]
\six{\tBL}
\end{axis}
\begin{axis}[rseg, width=217bp, height=248.4bp, at={(551bp,-266.7bp)}, anchor=south west,
  xtick={-1600,-1200,-800}, xticklabels={1600,1200,800}, minor xtick={-1400,-1000},
  lg={19}{1.7}, legend style={at={(0.2535,0.9915)}, row sep=2.0bp}]
\six{\tBR}
\end{axis}
\draw[line width=1bp] (457bp,-18.3bp) rectangle (768bp,-266.7bp);
\brkmark{551}{18.3}\brkmark{551}{266.7}
\node[plab] at (458bp,-16.7bp) {B};
\node[ylab, rotate=90] at (405bp,-131.7bp) {Intensity};
\node[ylab] at (612.5bp,-300bp) {Wavenumber (cm\textsuperscript{-1})};
\annh{503}{22}{3377.3}
\ann{540.5}{66.7}{2921.2}
\ann{575}{220}{1709.4}
\ann{584.7}{75.8}{1631.2}
\ann{605.7}{214}{1539.3}
\ann{613.8}{139}{1515.4}
\ann{620}{218}{1484.8}
\ann{632}{129}{1406.5}
\ann{672.5}{118}{1249.05}
\ann{689}{109}{1158.05}
\ann{682}{214}{1195.5}
\ann{715}{34}{1055.93}
\ann{746.7}{218}{912.9}

% ===== C =====
\begin{axis}[lseg, height=248bp, at={(60bp,-577.3bp)}, anchor=south west,
  xtick={-4000,-3500,-3000}, xticklabels={4000,3500,3000}, minor xtick={-3750,-3250}]
\six{\tCL}
\end{axis}
\begin{axis}[rseg, width=216bp, height=248bp, at={(154bp,-577.3bp)}, anchor=south west,
  xtick={-1500,-1000}, xticklabels={1500,1000}, minor xtick={-1750,-1250},
  lg={21.7}{1.0}, legend style={at={(-0.1111,0.9782)}, row sep=2.1bp}]
\six{\tCR}
\end{axis}
\draw[line width=1bp] (60bp,-329.3bp) rectangle (370bp,-577.3bp);
\brkmark{154}{329.3}\brkmark{154}{577.3}
\node[plab] at (61.7bp,-327bp) {C};
\node[ylab, rotate=90] at (8bp,-444.5bp) {Intensity};
\node[ylab] at (215bp,-609bp) {Wavenumber (cm\textsuperscript{-1})};
\annh{105}{338}{3414.7}
\ann{139}{421.3}{2928}
\ann{134}{521.3}{3019.9}
\ann{169}{460.5}{1736.7}
\ann{177.5}{528}{1702.6}
\ann{187}{409}{1637.9}
\ann{207.8}{536.3}{1559.7}
\ann{216.7}{459}{1512}
\ann{224}{534.7}{1484.8}
\ann{231}{443.5}{1457.6}
\ann{239}{435}{1423.5}
\ann{249}{438}{1375.9}
\ann{263}{511.3}{1328.2}
\ann{270.8}{418}{1249.9}
\ann{292.5}{401.3}{1161.4}
\ann{316.7}{374.5}{1049.1}
\ann{350.8}{513}{909.5}

% ===== D =====
\begin{axis}[lseg, height=248bp, at={(457bp,-577.3bp)}, anchor=south west,
  xtick={-4000,-3600,-3200}, xticklabels={4000,3600,3200}, minor xtick={-3800,-3400,-3000}]
\six{\tDL}
\end{axis}
\begin{axis}[rseg, width=217bp, height=248bp, at={(551bp,-577.3bp)}, anchor=south west,
  xtick={-1600,-1200,-800}, xticklabels={1600,1200,800}, minor xtick={-1400,-1000},
  lg={16.7}{0.8}, legend style={at={(0.2488,0.9915)}, row sep=0.8bp}]
\six{\tDR}
\end{axis}
\draw[line width=1bp] (457bp,-329.3bp) rectangle (768bp,-577.3bp);
\brkmark{551}{329.3}\brkmark{551}{577.3}
\node[plab] at (459.7bp,-326bp) {D};
\node[ylab, rotate=90] at (405bp,-446bp) {Intensity};
\node[ylab] at (612.5bp,-609bp) {Wavenumber (cm\textsuperscript{-1})};
\annh{503}{333.8}{3407.9}
\ann{538}{374.7}{2928}
\ann{565.8}{458.3}{1736.7}
\ann{574.7}{518.3}{1706}
\ann{584.2}{397.5}{1658.4}
\ann{603.3}{530}{1563}
\ann{615}{453.3}{1512}
\ann{621.3}{530}{1484.8}
\ann{645}{431.7}{1331.6}
\ann{671.3}{428.3}{1246.5}
\ann{688.5}{411.7}{1161.4}
\ann{715.2}{382.5}{1052.5}
\ann{748}{515}{909.57}
\end{tikzpicture}
\end{document}
